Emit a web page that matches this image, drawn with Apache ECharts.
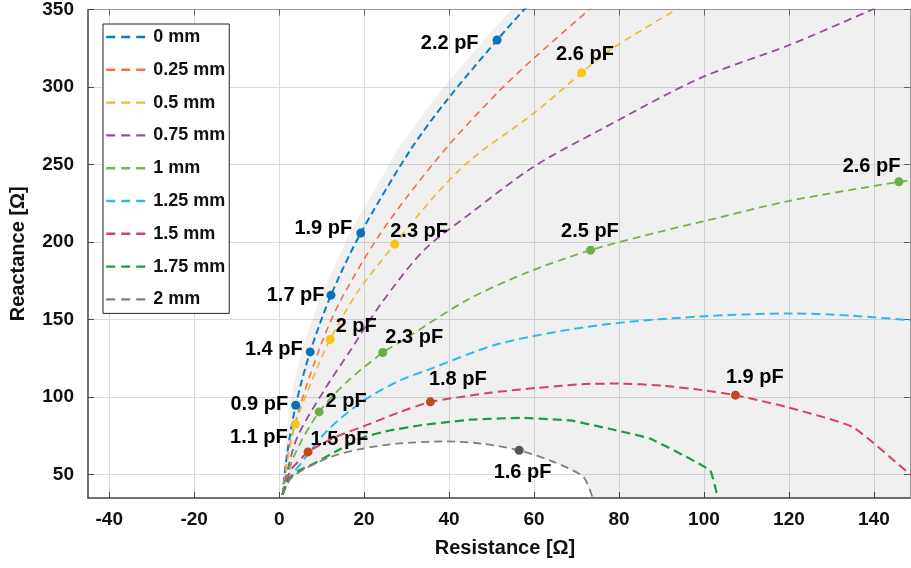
<!DOCTYPE html>
<html>
<head>
<meta charset="utf-8">
<script src="https://cdn.jsdelivr.net/npm/echarts@6/dist/echarts.min.js"></script>
<style>
  html, body { margin: 0; padding: 0; background: #fff; }
  #chart { width: 911px; height: 568px; }
</style>
</head>
<body>
<div id="chart"></div>
<script>
// Impedance trajectories (Resistance vs Reactance) for several gap distances.

// Axis ranges and tick values
const xMin = -45, xMax = 148.5;
const yMin = 35, yMax = 350;
const xTicks = [-40, -20, 0, 20, 40, 60, 80, 100, 120, 140];
const yTicks = [50, 100, 150, 200, 250, 300, 350];

// Series names (gap distance)
const names = ['0 mm', '0.25 mm', '0.5 mm', '0.75 mm', '1 mm', '1.25 mm', '1.5 mm', '1.75 mm', '2 mm'];

// Curves: [resistance, reactance]
const curve0 = [[0.8,37],[1.8,62],[3.9,94.8],[7.3,129.2],[12.2,165.8],[19.2,205.8],[30.9,259.4],[39.5,291.6],[51.3,330.3],[57.7,350],[60,356]];
const curve025 = [[0.8,37],[2.2,65],[5.0,95],[10.0,135],[14.5,162.6],[22.5,200],[30.1,229.2],[40.3,263.7],[52,298],[59.5,317.4],[73,350],[76,357]];
const curve05 = [[0.8,37],[2.0,60],[3.8,82.6],[7.6,110],[12.0,137.2],[18.5,168],[27.2,198.7],[36.4,229.2],[45,252.9],[59.9,283],[71.2,309.2],[77.9,323.9],[93.5,350],[97,355]];
const curve075 = [[0.8,37],[1.6,48.6],[4.3,74.4],[10.6,104.5],[16.8,130.3],[23.9,160],[34.1,194.8],[45,218.5],[59.9,248.6],[75.5,272.3],[99,305.6],[120,327],[139.7,350],[145,356]];
const curve1 = [[0.8,37],[3.5,62],[9.4,90.5],[16,110],[24.4,128.8],[28.6,135.8],[44.2,162.6],[58,180],[73.3,194.8],[90,207],[100,213.5],[120,226.5],[145.9,238.9],[150,240.5]];
const curve125 = [[0.8,37],[2.5,48],[5.1,57.2],[11.4,78.7],[20,98],[28.6,111],[34.8,117.4],[52,134.6],[75.5,146.5],[99,152],[121,154],[135,152.5],[148.3,149.7],[152,149]];
const curve15 = [[0.8,37],[2.7,52.9],[6.8,64.7],[13,74],[21.5,83],[28,90],[35.6,97],[50,103],[60.7,106],[72,108.5],[80.2,108.8],[90,107.5],[99.8,104.5],[107.4,101.3],[119.3,93.8],[135,80.8],[148.3,50.8],[152,43]];
const curve175 = [[0.8,37],[2,46.5],[4.5,52.5],[8.2,57.2],[13,64.5],[20,74.4],[26,78.5],[33.2,81.9],[45,85.5],[56.7,86.7],[68.5,85],[78,79.5],[87.3,73.3],[101.4,52.9],[103.3,34.6]];
const curve2 = [[0.8,37],[2.7,47.5],[6.5,54.5],[12.1,61.5],[19,66.5],[27.8,70.1],[39.5,71.5],[48,70],[56.5,65.8],[64.6,58.3],[71.6,48.6],[73.8,35]];

// Outer edge of the shaded feasible region
const shadeEdge = [[0.3,35],[0.9,50],[2.4,94.8],[5.2,129.2],[9.8,165.8],[16.6,205.8],[27.8,259.4],[36.2,291.6],[48.2,330.3],[54.7,350]];

// Marked capacitance points: [resistance, reactance, label]
const markBlue = [[3.9,94.8,'0.9 pF'],[7.3,129.2,'1.4 pF'],[12.2,165.8,'1.7 pF'],[19.2,205.8,'1.9 pF'],[51.3,330.3,'2.2 pF']];
const markYellow = [[3.8,82.6,'1.1 pF'],[12.0,137.2,'2 pF'],[27.2,198.7,'2.3 pF'],[71.2,309.2,'2.6 pF']];
const markGreen = [[9.4,90.5,'2 pF'],[24.4,128.8,'2.3 pF'],[73.3,194.8,'2.5 pF'],[145.9,238.9,'2.6 pF']];
const markRed = [[6.8,64.7,'1.5 pF'],[35.6,97.0,'1.8 pF'],[107.4,101.3,'1.9 pF']];
const markGray = [[56.5,65.8,'1.6 pF']];

// ---- styling ----
const FONT = 'Liberation Sans, Arial, sans-serif';
const lineColors = ['#0a7cc4', '#f2714a', '#efb72e', '#9a4c9e', '#72b54a', '#2fbbe8', '#d8415f', '#1e9c44', '#7f7f7f'];
const lineWidths = [2, 1.6, 1.6, 1.8, 1.8, 2, 2, 2.2, 1.8];
const dashes = [[7,4], [7,5], [7,5], [8,5], [8,5], [9,5], [9,5], [9,5], [8,5]];
const smoothing = [0.3, 0.3, 0.3, 0.3, 0.3, 0.3, 0.15, 0.1, 0.25];
const curves = [curve0, curve025, curve05, curve075, curve1, curve125, curve15, curve175, curve2];

// label placement for the marked points: [position, dx, dy]
const placeBlue = [['left',-3,-1],['left',-3,-2],['left',-2,0],['left',-4,-5],['left',-14,3]];
const placeYellow = [['left',-3,13],['right',1,-13],['right',-9,-13],['right',-30,-18]];
const placeGreen = [['right',2,-10],['right',-2,-15],['right',-34,-19],['left',6,-15]];
const placeRed = [['right',-2,-12],['right',-6,-22],['right',-14,-18]];
const placeGray = [['right',-30,22]];

function markSeries(name, pts, place, color) {
  return {
    name: name,
    type: 'scatter',
    symbolSize: 9,
    z: 5,
    itemStyle: { color: color, opacity: 1 },
    label: {
      show: true,
      distance: 0,
      formatter: p => p.value[2],
      color: '#000',
      fontFamily: FONT,
      fontWeight: 'bold',
      fontSize: 20
    },
    data: pts.map((p, i) => ({
      value: p,
      label: { position: place[i][0], offset: [place[i][1], place[i][2]] }
    }))
  };
}

const lineSeries = curves.map((c, i) => ({
  name: names[i],
  type: 'line',
  data: c,
  symbol: 'none',
  smooth: smoothing[i],
  z: 3,
  clip: true,
  lineStyle: { color: lineColors[i], width: lineWidths[i], type: dashes[i] },
  itemStyle: { color: lineColors[i] }
}));

// grey region: right of the outer edge, excluding the dome under the 2 mm curve
const shadeSeries = {
  type: 'custom',
  z: 1,
  silent: true,
  clip: true,
  data: [0],
  renderItem: function (params, api) {
    const pts = [];
    shadeEdge.forEach(p => pts.push(api.coord(p)));
    pts.push(api.coord([xMax, yMax]));
    pts.push(api.coord([xMax, yMin]));
    for (let i = curve2.length - 1; i >= 0; i--) pts.push(api.coord(curve2[i]));
    return {
      type: 'polygon',
      shape: { points: pts },
      style: { fill: 'rgba(0,0,0,0.058)', stroke: null }
    };
  }
};

const axisFont = { fontFamily: FONT, fontWeight: 'bold', fontSize: 19, color: '#111' };

const option = {
  animation: false,
  backgroundColor: '#fff',
  grid: { left: 86, right: 1, top: 9, bottom: 70 },
  legend: {
    orient: 'vertical',
    left: 103,
    top: 24,
    data: names,
    backgroundColor: '#fff',
    borderColor: '#222',
    borderWidth: 1,
    borderRadius: 0,
    padding: [4, 4, 5, 2],
    itemWidth: 42,
    itemHeight: 14,
    itemGap: 14.8,
    itemTextGap: 14,
    itemStyle: { opacity: 0 },
    lineStyle: { width: 2.4, type: [9, 6] },
    textStyle: { fontFamily: FONT, fontWeight: 'bold', fontSize: 18, color: '#111', lineHeight: 18 }
  },
  xAxis: [{
    type: 'value',
    min: xMin, max: xMax,
    name: 'Resistance [Ω]',
    nameLocation: 'middle',
    nameGap: 40,
    nameTextStyle: { fontFamily: FONT, fontWeight: 'bold', fontSize: 20, color: '#111', padding: [0, 0, 0, 12] },
    axisLine: { show: true, onZero: false, lineStyle: { color: '#444', width: 1.5 } },
    axisTick: { show: true, inside: true, length: 6, customValues: xTicks, lineStyle: { color: '#444' } },
    axisLabel: { customValues: xTicks, margin: 12, ...axisFont },
    splitLine: { show: true, lineStyle: { color: '#dcdcdc', width: 1 } }
  }, {
    type: 'value',
    position: 'top',
    min: xMin, max: xMax,
    axisLine: { show: true, onZero: false, lineStyle: { color: '#999', width: 1 } },
    axisTick: { show: true, inside: true, length: 6, customValues: xTicks, lineStyle: { color: '#666' } },
    axisLabel: { show: false },
    splitLine: { show: false }
  }],
  yAxis: [{
    type: 'value',
    min: yMin, max: yMax,
    name: 'Reactance [Ω]',
    nameLocation: 'middle',
    nameGap: 60,
    nameTextStyle: { fontFamily: FONT, fontWeight: 'bold', fontSize: 20, color: '#111' },
    axisLine: { show: true, onZero: false, lineStyle: { color: '#444', width: 1.5 } },
    axisTick: { show: true, inside: true, length: 6, customValues: yTicks, lineStyle: { color: '#444' } },
    axisLabel: { customValues: yTicks, margin: 14, ...axisFont },
    splitLine: { show: true, lineStyle: { color: '#dcdcdc', width: 1 } }
  }, {
    type: 'value',
    position: 'right',
    min: yMin, max: yMax,
    axisLine: { show: true, onZero: false, lineStyle: { color: '#999', width: 1 } },
    axisTick: { show: true, inside: true, length: 6, customValues: yTicks, lineStyle: { color: '#666' } },
    axisLabel: { show: false },
    splitLine: { show: false }
  }],
  series: [
    shadeSeries,
    ...lineSeries,
    markSeries('m0', markBlue, placeBlue, '#0a72bd'),
    markSeries('m05', markYellow, placeYellow, '#f5c518'),
    markSeries('m1', markGreen, placeGreen, '#6aad45'),
    markSeries('m15', markRed, placeRed, '#c2491c'),
    markSeries('m2', markGray, placeGray, '#555')
  ]
};

const chart = echarts.init(document.getElementById('chart'), null, { renderer: 'canvas' });
chart.setOption(option);
</script>
</body>
</html>
